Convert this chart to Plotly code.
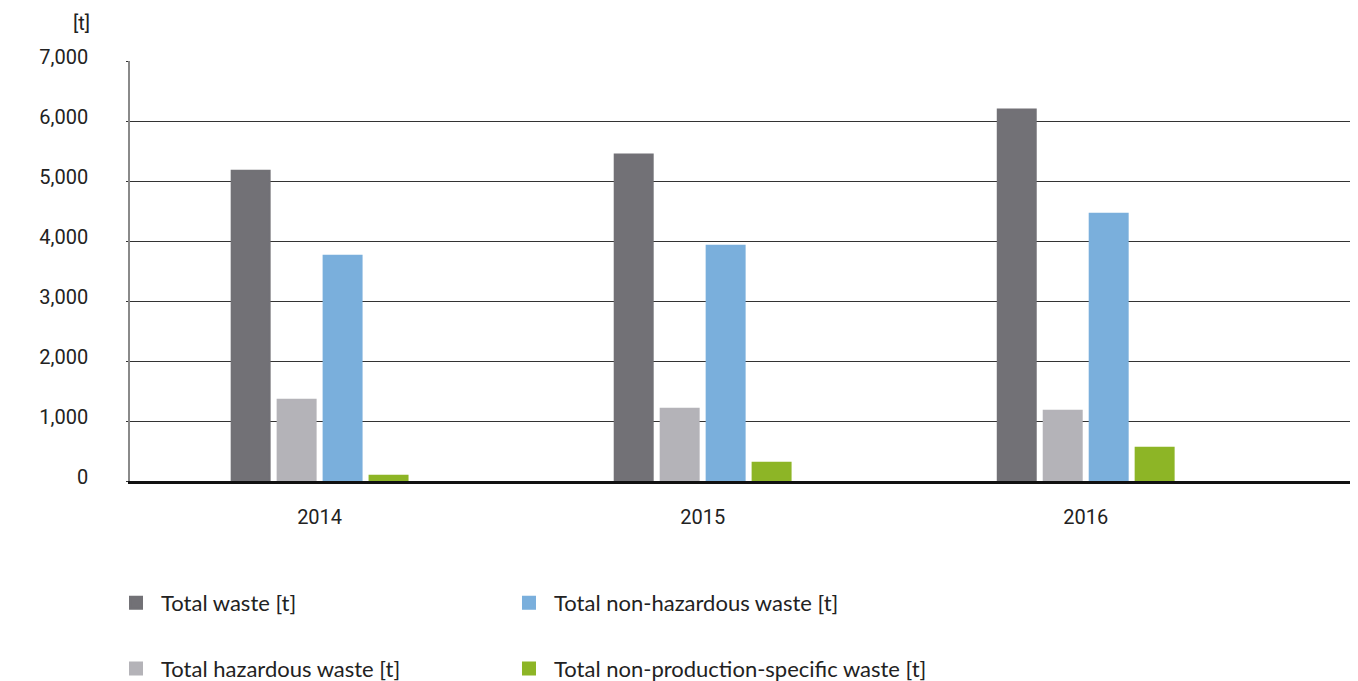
import plotly.graph_objects as go

years = ["2014", "2015", "2016"]
total_waste = [5170, 5440, 6190]
hazardous = [1355, 1205, 1172]
non_hazardous = [3755, 3922, 4455]
non_production = [88, 305, 555]

series_names = [
    "Total waste [t]",
    "Total hazardous waste [t]",
    "Total non-hazardous waste [t]",
    "Total non-production-specific waste [t]",
]
series_values = [total_waste, hazardous, non_hazardous, non_production]
series_colors = ["#727176", "#b4b3b8", "#7aafdc", "#8db526"]
series_legend = ["legend", "legend", "legend2", "legend2"]

y_ticks = [0, 1000, 2000, 3000, 4000, 5000, 6000, 7000]
y_ticktext = ["0", "1,000", "2,000", "3,000", "4,000", "5,000", "6,000", "7,000"]

fig = go.Figure()
for name, vals, col, lg in zip(series_names, series_values, series_colors, series_legend):
    fig.add_trace(go.Bar(
        x=years, y=vals, name=name, legend=lg, legendgroup=name,
        marker=dict(color=col, line=dict(color=col, width=2)),
    ))

tick_font = dict(family="Roboto, Arial, sans-serif", size=20, color="#222222")
legend_font = dict(family="Lato, Roboto, sans-serif", size=22, color="#222222")

fig.update_layout(
    width=1350, height=673,
    margin=dict(l=122, r=8, t=53, b=200, autoexpand=False),
    paper_bgcolor="white", plot_bgcolor="white",
    barmode="group", bargap=0.52, bargroupgap=0.174,
    xaxis=dict(
        type="category", range=[-0.495, 2.69], automargin=False,
        showgrid=False, showline=True, linecolor="#111111", linewidth=2.5,
        ticks="", tickfont=tick_font, ticklabelstandoff=16,
        fixedrange=True,
    ),
    yaxis=dict(
        range=[0, 7000], tickvals=y_ticks, ticktext=y_ticktext, automargin=False,
        showgrid=True, gridcolor="#333333", gridwidth=1,
        zeroline=False,
        showline=True, linecolor="#8a8a8a", linewidth=1.5,
        ticks="outside", ticklen=2, tickcolor="#333333",
        tickfont=tick_font, ticklabelstandoff=34, ticklabelshift=-4,
    ),
    legend=dict(
        x=0.0763, xref="container", y=0.1471, yref="container", xanchor="left", yanchor="top",
        orientation="v", font=legend_font, itemwidth=40,
        tracegroupgap=34, bgcolor="rgba(0,0,0,0)",
    ),
    legend2=dict(
        x=0.3674, xref="container", y=0.1471, yref="container", xanchor="left", yanchor="top",
        orientation="v", font=legend_font, itemwidth=40,
        tracegroupgap=34, bgcolor="rgba(0,0,0,0)",
    ),
    annotations=[dict(
        text="[t]", xref="paper", yref="paper", x=-0.031, y=1.0905,
        xanchor="right", yanchor="middle", showarrow=False, font=tick_font,
    )],
)

fig.write_html("out.html")
